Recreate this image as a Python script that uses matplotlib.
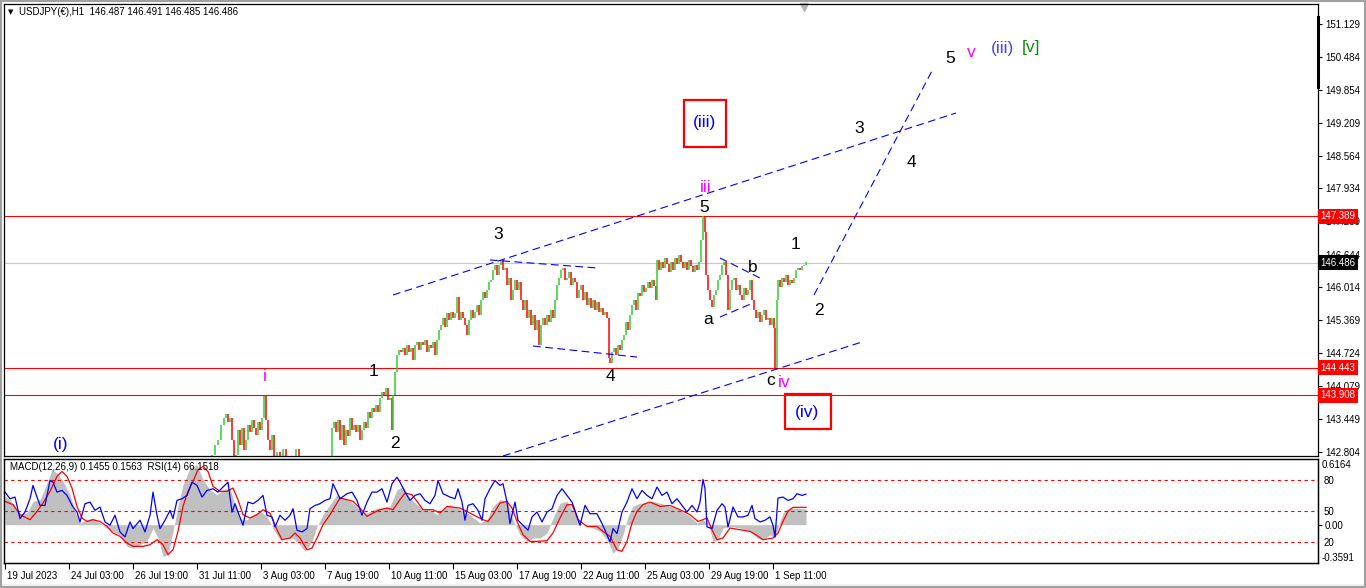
import matplotlib
matplotlib.use("Agg")
import matplotlib.pyplot as plt
from matplotlib.patches import Rectangle
from matplotlib.lines import Line2D
from matplotlib.transforms import ScaledTranslation, blended_transform_factory

plt.rcParams['font.family'] = ['Liberation Sans', 'DejaVu Sans']

# H1 bars counted from 19 Jul 2023 00:00 (one bar per hour of trading)
price_bar = [
    203, 207, 210, 213, 216, 219, 221, 223, 225, 227,
    229, 231, 233, 235, 237, 239, 241, 243, 245, 247,
    249, 251, 253, 255, 257, 259, 261, 263, 265, 267,
    269, 272, 275, 278, 281, 285, 289, 291, 294, 298,
    302, 306, 310, 314, 318, 322, 325, 327, 329, 331,
    333, 335, 337, 339, 341, 343, 345, 347, 349, 351,
    353, 355, 357, 359, 361, 363, 365, 367, 369, 371,
    373, 375, 377, 379, 381, 383, 385, 387, 388, 390,
    392, 394, 396, 398, 400, 402, 404, 406, 408, 410,
    412, 414, 416, 418, 420, 422, 424, 426, 428, 430,
    432, 434, 436, 438, 440, 442, 444, 446, 448, 450,
    452, 454, 456, 458, 460, 462, 464, 466, 468, 470,
    472, 474, 476, 478, 480, 482, 484, 486, 488, 490,
    492, 494, 496, 498, 500, 502, 504, 506, 508, 510,
    512, 514, 516, 518, 520, 522, 524, 526, 528, 530,
    532, 534, 536, 538, 540, 542, 544, 546, 548, 550,
    552, 554, 556, 558, 560, 562, 564, 566, 568, 570,
    572, 574, 576, 578, 580, 582, 584, 586, 588, 590,
    592, 594, 596, 598, 600, 602, 604, 605, 607, 609,
    611, 613, 615, 617, 619, 621, 623, 625, 627, 629,
    631, 633, 635, 637, 639, 641, 643, 645, 647, 649,
    651, 652, 654, 656, 658, 660, 662, 664, 666, 668,
    670, 672, 674, 676, 678, 680, 682, 684, 686, 688,
    690, 692, 694, 696, 698, 700, 701, 703, 705, 707,
    709, 711, 713, 715, 717, 719, 721, 723, 725, 727,
    729, 731, 733, 735, 737, 739, 741, 743, 745, 747,
    749, 751, 753, 755, 757, 759, 761, 763, 765, 767,
    769, 770, 772, 773, 775, 777, 779, 781, 783, 785,
    787, 789, 791, 793, 795, 797, 799, 801,
]
price_close = [
    142.45, 142.74, 142.94, 143.04, 143.33, 143.46, 143.54, 143.39, 143.46, 143.04,
    142.65, 142.74, 143.23, 142.94, 143.27, 142.84, 143.04, 143.33, 143.19, 143.43,
    143.27, 143.13, 143.39, 143.23, 143.46, 143.89, 143.43, 143.04, 142.84, 143.13,
    142.69, 142.80, 142.55, 142.86, 142.61, 142.45, 142.61, 142.86, 142.55, 142.36,
    142.45, 142.30, 142.41, 142.45, 142.49, 142.36, 142.65, 143.27, 143.39, 143.19,
    143.43, 143.04, 143.33, 142.94, 143.23, 143.11, 143.46, 143.23, 143.33, 143.19,
    143.33, 143.04, 143.23, 143.39, 143.27, 143.58, 143.46, 143.66, 143.58, 143.72,
    143.58, 143.85, 143.97, 143.91, 144.05, 143.81, 143.85, 143.23, 143.91, 144.36,
    144.69, 144.79, 144.75, 144.83, 144.69, 144.88, 144.75, 144.83, 144.59, 144.88,
    144.94, 144.79, 144.94, 144.88, 144.98, 144.75, 144.88, 144.83, 144.94, 144.69,
    144.98, 145.18, 145.27, 145.41, 145.23, 145.51, 145.37, 145.53, 145.41, 145.51,
    145.82, 145.37, 145.53, 145.41, 145.27, 145.08, 145.37, 145.57, 145.41, 145.53,
    145.66, 145.47, 145.76, 145.92, 145.80, 145.95, 146.11, 146.15, 146.34, 146.44,
    146.25, 146.44, 146.54, 146.34, 146.38, 146.05, 146.19, 145.76, 145.95, 146.15,
    145.95, 146.11, 145.76, 145.57, 145.76, 145.41, 145.57, 145.27, 145.47, 145.18,
    145.37, 144.88, 145.27, 145.41, 145.27, 145.47, 145.33, 145.57, 145.41, 145.76,
    146.05, 146.19, 146.34, 146.38, 146.15, 146.19, 146.30, 146.05, 146.19, 146.11,
    145.80, 145.95, 146.05, 145.76, 145.92, 145.66, 145.80, 145.60, 145.76, 145.57,
    145.72, 145.53, 145.60, 145.47, 145.53, 145.41, 144.63, 144.53, 144.75, 144.83,
    144.69, 144.88, 144.79, 144.98, 145.08, 145.33, 145.18, 145.47, 145.66, 145.76,
    145.57, 145.90, 145.84, 146.05, 145.92, 145.99, 146.11, 145.99, 146.15, 146.03,
    145.76, 146.54, 146.34, 146.50, 146.38, 146.58, 146.46, 146.30, 146.50, 146.34,
    146.58, 146.46, 146.64, 146.50, 146.38, 146.50, 146.34, 146.54, 146.42, 146.30,
    146.44, 146.34, 146.50, 146.93, 147.39, 147.08, 146.25, 145.95, 145.76, 145.62,
    145.86, 145.95, 146.15, 146.25, 146.44, 146.50, 146.25, 145.57, 145.95, 146.15,
    146.19, 145.95, 146.05, 145.86, 145.76, 145.99, 145.86, 145.95, 146.15, 145.76,
    145.57, 145.41, 145.53, 145.33, 145.47, 145.57, 145.37, 145.41, 145.27, 145.41,
    145.22, 144.44, 145.76, 146.15, 146.01, 146.19, 146.11, 146.25, 146.05, 146.15,
    146.09, 146.19, 146.34, 146.38, 146.34, 146.42, 146.44, 146.49,
]

rsi_bar = [
    0, 5, 10, 15, 20, 25, 28, 32, 35, 40,
    45, 48, 52, 57, 62, 67, 72, 75, 80, 85,
    90, 95, 100, 105, 110, 115, 120, 125, 128, 135,
    140, 145, 148, 152, 155, 160, 165, 168, 172, 177,
    182, 187, 192, 197, 202, 208, 213, 218, 223, 227,
    230, 233, 238, 243, 248, 253, 258, 262, 267, 270,
    275, 280, 285, 288, 292, 297, 302, 305, 310, 315,
    320, 325, 328, 332, 335, 342, 347, 352, 357, 362,
    367, 372, 377, 382, 387, 392, 395, 400, 405, 410,
    415, 420, 425, 430, 433, 438, 445, 450, 453, 457,
    460, 463, 468, 473, 477, 480, 485, 490, 495, 498,
    502, 505, 510, 513, 518, 523, 527, 532, 537, 542,
    547, 552, 557, 562, 567, 570, 575, 580, 585, 592,
    597, 600, 605, 608, 612, 617, 622, 627, 632, 637,
    642, 647, 652, 657, 662, 667, 672, 677, 682, 687,
    692, 695, 698, 700, 702, 707, 712, 717, 720, 723,
    728, 733, 738, 743, 747, 750, 755, 760, 765, 768,
    770, 773, 778, 783, 788, 792, 797, 801,
]
rsi_val = [
    68.2, 61.8, 63.4, 42.7, 49.0, 61.8, 74.6, 63.4, 55.4, 55.4,
    79.3, 77.8, 68.2, 69.8, 65.0, 55.4, 49.0, 39.5, 57.0, 58.6,
    50.6, 53.8, 39.5, 36.3, 45.9, 29.9, 25.1, 39.5, 33.1, 41.1,
    29.9, 45.9, 68.2, 45.9, 33.1, 41.1, 50.6, 42.7, 60.2, 61.8,
    65.0, 77.8, 74.6, 63.4, 69.8, 71.4, 68.2, 73.0, 77.8, 49.0,
    57.0, 49.0, 36.3, 58.6, 57.0, 60.2, 65.0, 45.9, 44.3, 34.7,
    45.9, 41.1, 45.9, 52.2, 31.5, 29.9, 33.1, 52.2, 55.4, 57.0,
    60.2, 61.8, 76.2, 68.2, 61.8, 66.6, 68.2, 60.2, 45.9, 58.6,
    68.2, 68.2, 71.4, 58.6, 76.2, 82.5, 77.8, 68.2, 60.2, 65.0,
    66.6, 60.2, 57.0, 65.0, 79.3, 66.6, 63.4, 61.8, 71.4, 58.6,
    41.1, 55.4, 57.0, 50.6, 41.1, 61.8, 71.4, 79.3, 74.6, 76.2,
    58.6, 37.9, 58.6, 41.1, 36.3, 31.5, 44.3, 49.0, 39.5, 49.0,
    52.2, 65.0, 71.4, 65.0, 58.6, 50.6, 36.3, 55.4, 47.4, 47.4,
    37.9, 31.5, 20.3, 33.1, 28.3, 49.0, 58.6, 71.4, 61.8, 69.8,
    65.0, 61.8, 73.0, 65.0, 68.2, 57.0, 61.8, 55.4, 49.0, 55.4,
    49.0, 58.6, 80.3, 71.4, 34.7, 33.1, 50.6, 57.0, 53.8, 34.7,
    53.8, 44.3, 44.3, 45.9, 55.4, 42.7, 39.5, 41.1, 44.3, 36.3,
    25.1, 62.4, 63.4, 60.2, 61.8, 66.6, 65.0, 66.2,
]

macd_bar = [
    0, 5, 10, 15, 22, 28, 35, 42, 47, 52,
    58, 65, 70, 75, 82, 88, 95, 102, 108, 115,
    122, 128, 135, 142, 148, 153, 158, 163, 168, 173,
    178, 185, 192, 198, 205, 212, 218, 225, 230, 235,
    242, 248, 255, 262, 268, 275, 282, 288, 295, 300,
    307, 312, 318, 325, 332, 338, 345, 352, 358, 365,
    372, 378, 385, 392, 398, 405, 412, 418, 425, 432,
    438, 445, 455, 465, 475, 482, 488, 495, 502, 508,
    515, 522, 528, 535, 542, 548, 555, 562, 568, 575,
    582, 588, 595, 602, 608, 613, 618, 623, 628, 635,
    642, 648, 655, 665, 675, 685, 692, 698, 703, 708,
    713, 718, 725, 735, 745, 752, 758, 765, 770, 775,
    778, 783, 792, 801,
]
macd_main = [
    0.266, 0.235, 0.172, 0.109, 0.109, 0.219, 0.235, 0.391, 0.516, 0.485,
    0.407, 0.281, 0.125, 0.016, 0.047, 0.063, 0.016, -0.031, -0.063, -0.094,
    -0.203, -0.219, -0.188, -0.156, -0.031, -0.125, -0.297, -0.281, -0.063, 0.172,
    0.375, 0.532, 0.563, 0.422, 0.328, 0.281, 0.328, 0.344, 0.188, 0.047,
    0.047, 0.094, 0.125, 0.078, -0.031, -0.141, -0.125, -0.125, -0.188, -0.250,
    -0.156, -0.016, 0.094, 0.188, 0.281, 0.250, 0.219, 0.172, 0.094, 0.125,
    0.156, 0.156, 0.172, 0.328, 0.360, 0.250, 0.188, 0.141, 0.141, 0.094,
    0.141, 0.188, 0.141, 0.094, 0.016, 0.047, 0.172, 0.235, 0.219, 0.047,
    -0.094, -0.156, -0.125, -0.125, -0.078, 0.063, 0.203, 0.219, 0.125, 0.016,
    -0.016, -0.031, -0.063, -0.141, -0.266, -0.219, -0.094, 0.078, 0.172, 0.203,
    0.203, 0.219, 0.203, 0.172, 0.141, 0.078, 0.016, 0.047, 0.016, -0.156,
    -0.141, -0.031, -0.016, -0.031, -0.063, -0.125, -0.141, -0.094, -0.125, 0.031,
    0.109, 0.156, 0.156, 0.146,
]

signal_bar = [
    0, 8, 15, 25, 32, 38, 45, 52, 57, 62,
    67, 72, 77, 82, 88, 95, 102, 108, 115, 122,
    128, 138, 145, 152, 158, 163, 168, 173, 178, 183,
    188, 193, 198, 203, 208, 215, 222, 228, 233, 238,
    245, 252, 258, 265, 272, 277, 285, 290, 295, 302,
    307, 312, 318, 325, 330, 335, 342, 348, 355, 362,
    368, 375, 382, 388, 395, 400, 407, 412, 418, 428,
    435, 442, 455, 462, 468, 478, 483, 488, 495, 502,
    507, 512, 518, 525, 532, 542, 548, 555, 562, 567,
    573, 582, 592, 598, 605, 612, 617, 622, 627, 632,
    638, 645, 655, 665, 675, 685, 693, 698, 702, 707,
    712, 718, 725, 735, 745, 752, 758, 768, 773, 778,
    783, 788, 801,
]
signal_val = [
    0.219, 0.188, 0.094, 0.047, 0.125, 0.203, 0.313, 0.453, 0.500, 0.453,
    0.344, 0.172, 0.063, 0.031, 0.047, 0.031, -0.016, -0.078, -0.109, -0.172,
    -0.203, -0.203, -0.188, -0.140, -0.188, -0.281, -0.235, -0.063, 0.172, 0.313,
    0.407, 0.516, 0.547, 0.500, 0.360, 0.313, 0.313, 0.344, 0.235, 0.094,
    0.063, 0.094, 0.141, 0.109, -0.047, -0.141, -0.125, -0.078, -0.125, -0.235,
    -0.219, -0.125, 0.000, 0.094, 0.172, 0.250, 0.235, 0.219, 0.156, 0.078,
    0.109, 0.141, 0.156, 0.141, 0.235, 0.297, 0.281, 0.219, 0.141, 0.141,
    0.109, 0.172, 0.156, 0.125, 0.094, 0.047, 0.031, 0.094, 0.203, 0.219,
    0.156, 0.031, -0.094, -0.156, -0.156, -0.150, -0.078, 0.063, 0.188, 0.188,
    0.047, -0.016, -0.016, -0.063, -0.109, -0.235, -0.250, -0.156, 0.016, 0.125,
    0.188, 0.213, 0.172, 0.181, 0.141, 0.094, 0.031, 0.047, 0.063, -0.047,
    -0.141, -0.125, -0.031, -0.047, -0.063, -0.100, -0.141, -0.125, -0.078, 0.031,
    0.125, 0.163, 0.163,
]

date_bar = [0, 64, 128, 192, 256, 320, 384, 448, 512, 576, 640, 704, 768]
date_labels = ["19 Jul 2023", "24 Jul 03:00", "26 Jul 19:00", "31 Jul 11:00",
               "3 Aug 03:00", "7 Aug 19:00", "10 Aug 11:00", "15 Aug 03:00",
               "17 Aug 19:00", "22 Aug 11:00", "25 Aug 03:00", "29 Aug 19:00",
               "1 Sep 11:00"]

price_ticks = [151.129, 150.484, 149.854, 149.209, 148.564, 147.934, 147.289,
               146.644, 146.014, 145.369, 144.724, 144.079, 143.449, 142.804]
red_levels = [147.389, 144.443, 143.908]
last_price = 146.486

# drawn trendlines: (bar, price) -> (bar, price)
trendlines = [
    ((388, 145.857), (951, 149.398)),
    ((498, 142.725), (857, 144.943)),
    ((485, 146.538), (593, 146.382)),
    ((528, 144.865), (632, 144.650)),
    ((715, 146.577), (757, 146.168)),
    ((715, 145.429), (748, 145.701)),
    ((809, 145.857), (928, 150.254)),
]

BLK, MAG, BLU = 'black', '#FF00FF', '#0000FF'
wave_labels = [
    ("(i)", 56, 142.94, BLU), ("i", 260, 144.28, MAG), ("1", 369, 144.36, BLK),
    ("2", 390, 142.96, BLK), ("3", 493, 147.04, BLK), ("4", 605, 144.28, BLK),
    ("iii", 701, 147.94, MAG), ("5", 699, 147.55, BLK), ("a", 703, 145.39, BLK),
    ("b", 748, 146.40, BLK), ("1", 791, 146.83, BLK), ("2", 814, 145.55, BLK),
    ("c", 766, 144.20, BLK), ("iv", 779, 144.16, MAG), ("(iv)", 802, 143.58, BLU),
    ("(iii)", 699, 149.22, BLU), ("3", 854, 149.09, BLK), ("4", 906, 148.43, BLK),
    ("5", 945, 150.45, BLK), ("v", 966, 150.57, MAG), ("(iii)", 998, 150.66, '#4646F0'),
    ("[v]", 1026, 150.68, '#108A10'),
]
# red frames around the current-degree labels: (bar, price, width, height)
label_boxes = [(679, 148.737, 42, 0.913), (780, 143.25, 46, 0.68)]

W, H = 1366, 588
fig = plt.figure(figsize=(W / 100, H / 100), dpi=100)
ax = fig.add_axes([4 / W, 1 - 456 / H, 1314 / W, 452 / H])
sub = fig.add_axes([4 / W, 1 - 563 / H, 1314 / W, 104 / H])
rsi_ax = sub.twinx()

FS = 7.0
lab_font = dict(fontsize=FS)

# ---- price panel ----
for i in range(1, len(price_bar)):
    o, c = price_close[i - 1], price_close[i]
    col = '#32CD32' if c >= o else '#FF0000'
    ax.vlines(price_bar[i], min(o, c), max(o, c), color=col, lw=1.1)

for lvl in red_levels:
    ax.axhline(lvl, color='#FF0000', lw=0.8, zorder=1)
ax.axhline(last_price, color='#C8C8C8', lw=0.8, zorder=0.5)

for (b0, p0), (b1, p1) in trendlines:
    ax.plot([b0, b1], [p0, p1], color='#0000FF', lw=0.8, dashes=(7, 4))

for txt, b, p, col in wave_labels:
    ax.text(b, p, txt, color=col, fontsize=12.5, ha='center', va='center')
for b, p, w, h in label_boxes:
    ax.add_patch(Rectangle((b, p), w, h, fill=False, edgecolor='#FF0000', lw=1.6))

ax.set_xlim(-1, 1313)
ax.set_ylim(142.725, 151.518)
ax.set_xticks([])
ax.yaxis.tick_right()
ax.set_yticks(price_ticks)
ax.set_yticklabels([f"{t:.3f}" for t in price_ticks], **lab_font)
ax.tick_params(axis='y', length=3, width=0.8, pad=2)
for s in ax.spines.values():
    s.set_linewidth(0.9)

trans = blended_transform_factory(ax.transAxes, ax.transData)
for lvl in red_levels + [last_price]:
    bg = 'black' if lvl == last_price else '#FF0000'
    ax.text(1.0018, lvl, f"{lvl:.3f}", transform=trans, color='white', ha='left',
            va='center', fontsize=FS, clip_on=False, zorder=5,
            bbox=dict(boxstyle='square,pad=0.25', facecolor=bg, edgecolor='none'))

# ---- indicator panel ----
sub.fill_between(macd_bar, 0, macd_main, color='#C0C0C0', lw=0)
sub.plot(signal_bar, signal_val, color='#FF0000', lw=0.9)
sub.set_ylim(-0.3591, 0.6164)
sub.set_xlim(-1, 1313)
sub.yaxis.tick_right()
sub.set_yticks([0.0])
sub.set_yticklabels(["0.00"], **lab_font)
sub.tick_params(axis='y', length=3, pad=2)

for lvl in (20, 50, 80):
    rsi_ax.axhline(lvl, color='#FF0000', lw=0.8, dashes=(3, 3))
rsi_ax.plot(rsi_bar, rsi_val, color='#0000FF', lw=0.9)
rsi_ax.set_ylim(0, 100)
rsi_ax.set_yticks([20, 50, 80])
rsi_ax.set_yticklabels(["20", "50", "80"], **lab_font)
rsi_ax.tick_params(axis='y', length=0, pad=4)
rsi_ax.text(1.003, 0.99, "0.6164", transform=sub.transAxes, ha='left', va='top', **lab_font)
rsi_ax.text(1.003, 0.0, "-0.3591", transform=sub.transAxes, ha='left', va='bottom', **lab_font)

sub.set_xticks(date_bar)
sub.set_xticklabels(date_labels, ha='left', **lab_font)
sub.tick_params(axis='x', length=4, pad=2)
shift = ScaledTranslation(2 / 100, 0, fig.dpi_scale_trans)
for lbl in sub.get_xticklabels():
    lbl.set_transform(lbl.get_transform() + shift)
for a in (sub, rsi_ax):
    for s in a.spines.values():
        s.set_linewidth(0.9)

# ---- header texts and window frame ----
fig.text(8 / W, 1 - 12 / H, "▼", fontsize=5, va='center', family=['DejaVu Sans'])
fig.text(19 / W, 1 - 12 / H, "USDJPY(€),H1  146.487 146.491 146.485 146.486",
         va='center', **lab_font)
fig.text(10 / W, 1 - 467 / H, "MACD(12,26,9) 0.1455 0.1563  RSI(14) 66.1518",
         va='center', **lab_font)
fig.add_artist(Line2D([1318 / W, 1318 / W], [1 - 17 / H, 1 - 87 / H],
                      color='black', lw=2.2))
ax.plot([799], [1 - 3 / 452], marker='v', color='#B4B4B4', ms=6,
        transform=blended_transform_factory(ax.transData, ax.transAxes), clip_on=False)
fig.add_artist(Rectangle((0, 0), 1, 4 / H, transform=fig.transFigure,
                         facecolor='#F0F0F0', edgecolor='none'))
fig.add_artist(Rectangle((0.001, 0.001), 0.998, 0.997, transform=fig.transFigure,
                         fill=False, edgecolor='#A0A0A0', lw=1.5))

fig.savefig("out.png", dpi=100)
